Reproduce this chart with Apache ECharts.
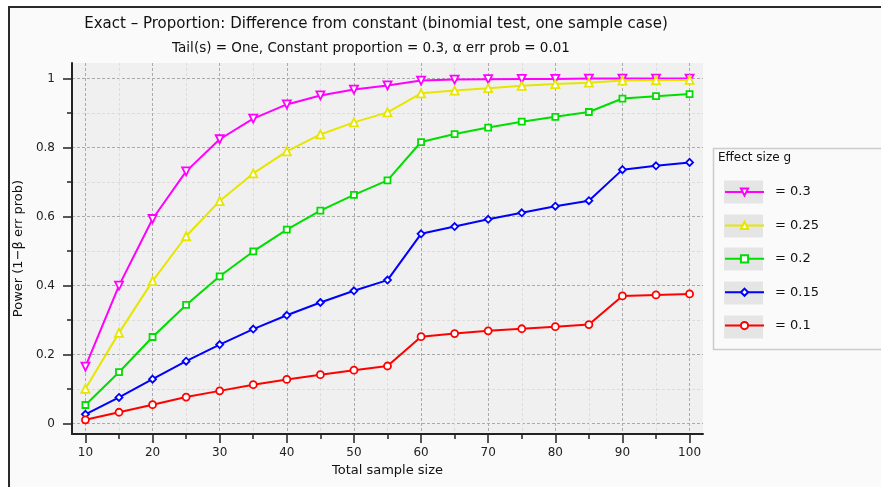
<!DOCTYPE html>
<html>
<head>
<meta charset="utf-8">
<title>Exact - Proportion: Difference from constant</title>
<script src="https://cdn.jsdelivr.net/npm/echarts@6/dist/echarts.min.js"></script>
<style>
html, body { margin: 0; padding: 0; background: #fff; }
#chart { width: 881px; height: 487px; }
</style>
</head>
<body>
<div id="chart"></div>
<script>
// total sample size
const sampleSize = [10, 15, 20, 25, 30, 35, 40, 45, 50, 55, 60, 65, 70, 75, 80, 85, 90, 95, 100]

// power per effect size g
const power030 = [0.165, 0.400, 0.593, 0.731, 0.824, 0.884, 0.925, 0.951, 0.968, 0.980, 0.994, 0.997, 0.998, 0.999, 0.999, 1.0, 1.0, 1.0, 1.0]
const power025 = [0.101, 0.263, 0.413, 0.543, 0.645, 0.725, 0.789, 0.838, 0.873, 0.902, 0.957, 0.965, 0.972, 0.979, 0.984, 0.988, 0.994, 0.995, 0.996]
const power020 = [0.054, 0.149, 0.251, 0.344, 0.427, 0.499, 0.562, 0.617, 0.663, 0.705, 0.816, 0.839, 0.858, 0.875, 0.889, 0.903, 0.942, 0.949, 0.955]
const power015 = [0.027, 0.076, 0.129, 0.181, 0.229, 0.274, 0.314, 0.351, 0.385, 0.416, 0.550, 0.571, 0.592, 0.611, 0.630, 0.646, 0.736, 0.747, 0.757]
const power010 = [0.011, 0.033, 0.055, 0.077, 0.095, 0.113, 0.128, 0.142, 0.155, 0.167, 0.252, 0.261, 0.269, 0.275, 0.281, 0.287, 0.370, 0.373, 0.376]

const effectNames = ['= 0.3', '= 0.25', '= 0.2', '= 0.15', '= 0.1']

// tick labels
const xMajorTicks = [10, 20, 30, 40, 50, 60, 70, 80, 90, 100]
const xMinorTicks = [15, 25, 35, 45, 55, 65, 75, 85, 95]
const yMajorTicks = [0, 0.2, 0.4, 0.6, 0.8, 1]
const yMinorTicks = [0.1, 0.3, 0.5, 0.7, 0.9]

const fontFamily = 'DejaVu Sans'
const axisColor = '#222'

function pairs(values) {
    return values.map((v, i) => [sampleSize[i], v])
}

function makeSeries(name, values, color, symbol, size, rotate) {
    return {
        name: name,
        type: 'line',
        color: color,
        data: pairs(values),
        symbol: symbol,
        symbolSize: size,
        symbolRotate: rotate || 0,
        showAllSymbol: true,
        lineStyle: { color: color, width: 2 },
        itemStyle: { color: '#fff', borderColor: color, borderWidth: 1.8 },
        emphasis: { disabled: true },
        z: 3
    }
}

const chart = echarts.init(document.getElementById('chart'), null, { renderer: 'canvas' })

const legendRows = [192, 226, 259, 293, 327]

chart.setOption({
    animation: false,
    backgroundColor: '#fff',
    textStyle: { fontFamily: fontFamily },
    title: [{
        text: 'Exact – Proportion: Difference from constant (binomial test, one sample case)',
        left: 371,
        top: 12,
        textAlign: 'center',
        textStyle: { fontFamily: fontFamily, fontSize: 15, fontWeight: 'normal', color: '#111' }
    }, {
        text: 'Tail(s) = One, Constant proportion = 0.3, α err prob = 0.01',
        left: 366,
        top: 36,
        textAlign: 'center',
        textStyle: { fontFamily: fontFamily, fontSize: 13.5, fontWeight: 'normal', color: '#111' }
    }],
    graphic: [{
        type: 'rect',
        z: -10,
        silent: true,
        shape: { x: 9, y: 7, width: 900, height: 500 },
        style: { fill: '#fafafa', stroke: '#2a2a2a', lineWidth: 2 }
    }, {
        type: 'rect',
        z: 0,
        silent: true,
        shape: { x: 713.5, y: 148.5, width: 200, height: 201 },
        style: { fill: '#fafafa', stroke: '#cccccc', lineWidth: 1.5 }
    }, {
        type: 'text',
        z: 1,
        silent: true,
        style: { x: 718, y: 158, text: 'Effect size g', fontFamily: fontFamily, fontSize: 12, fill: '#111', verticalAlign: 'middle' }
    }].concat(legendRows.map(y => ({
        type: 'rect',
        z: 1,
        silent: true,
        shape: { x: 724, y: y - 11.5, width: 39, height: 23 },
        style: { fill: '#e5e5e5' }
    }))),
    legend: {
        orient: 'vertical',
        left: 724,
        top: 185.5,
        padding: 0,
        itemWidth: 39,
        itemHeight: 9,
        itemGap: 20.4,
        data: effectNames,
        selectedMode: false,
        textStyle: { fontFamily: fontFamily, fontSize: 13, color: '#111', padding: [0, 0, 0, 6] }
    },
    grid: {
        left: 72,
        right: 178,
        top: 63,
        bottom: 53,
        show: true,
        backgroundColor: '#f0f0f0',
        borderWidth: 0,
        containLabel: false
    },
    xAxis: [{
        type: 'value',
        min: 8,
        max: 102,
        name: 'Total sample size',
        nameLocation: 'middle',
        nameGap: 30,
        nameTextStyle: { fontFamily: fontFamily, fontSize: 13, color: '#111' },
        axisLine: { onZero: false, lineStyle: { color: axisColor, width: 2 } },
        axisTick: { customValues: xMajorTicks, length: 9, lineStyle: { color: axisColor, width: 1.5 } },
        axisLabel: { customValues: xMajorTicks, margin: 13, fontFamily: fontFamily, fontSize: 12, color: '#222' },
        splitLine: { show: true, lineStyle: { color: '#aaaaaa', type: [3, 2], width: 1 } }
    }, {
        type: 'value',
        min: 8,
        max: 102,
        position: 'bottom',
        axisLine: { show: false, onZero: false },
        axisTick: { customValues: xMinorTicks, length: 5, lineStyle: { color: axisColor, width: 1.5 } },
        axisLabel: { show: false },
        splitLine: { show: true, lineStyle: { color: '#dcdcdc', type: [3, 2], width: 1 } }
    }],
    yAxis: [{
        type: 'value',
        min: -0.03,
        max: 1.045,
        name: 'Power (1−β err prob)',
        nameLocation: 'middle',
        nameGap: 26,
        nameTextStyle: { fontFamily: fontFamily, fontSize: 13, color: '#111' },
        axisLine: { onZero: false, lineStyle: { color: axisColor, width: 2 } },
        axisTick: { customValues: yMajorTicks, length: 9, lineStyle: { color: axisColor, width: 1.5 } },
        axisLabel: { customValues: yMajorTicks, margin: 17, fontFamily: fontFamily, fontSize: 12, color: '#222' },
        splitLine: { show: true, lineStyle: { color: '#aaaaaa', type: [3, 2], width: 1 } }
    }, {
        type: 'value',
        min: -0.03,
        max: 1.045,
        position: 'left',
        axisLine: { show: false, onZero: false },
        axisTick: { customValues: yMinorTicks, length: 5, lineStyle: { color: axisColor, width: 1.5 } },
        axisLabel: { show: false },
        splitLine: { show: true, lineStyle: { color: '#dcdcdc', type: [3, 2], width: 1 } }
    }],
    series: [
        makeSeries(effectNames[0], power030, '#ff00ff', 'triangle', 8, 180),
        makeSeries(effectNames[1], power025, '#e6e600', 'triangle', 8),
        makeSeries(effectNames[2], power020, '#00dd00', 'rect', 6),
        makeSeries(effectNames[3], power015, '#0000ff', 'diamond', 7),
        makeSeries(effectNames[4], power010, '#ff0000', 'circle', 7)
    ]
})
</script>
</body>
</html>
